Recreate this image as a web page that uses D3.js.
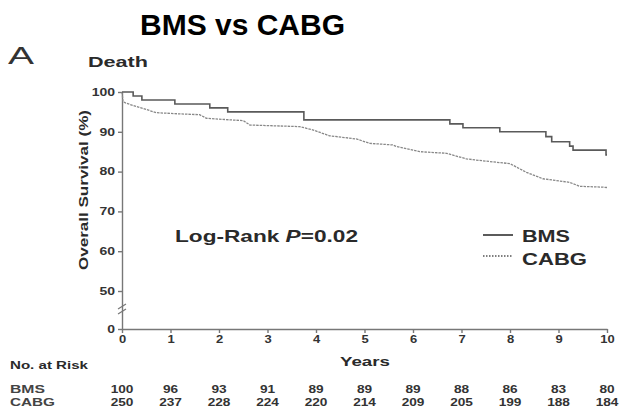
<!DOCTYPE html>
<html>
<head>
<meta charset="utf-8">
<script src="https://cdnjs.cloudflare.com/ajax/libs/d3/7.8.5/d3.min.js"></script>
<style>
  body { margin: 0; background: #fff; }
  svg { display: block; }
  text { font-family: "Liberation Sans", Arial, sans-serif; }
</style>
</head>
<body>
<script>
// KM curves (years, % surviving)
var bmsTime = [0, 0.23, 0.41, 1.09, 1.81, 2.18, 3.75, 6.76, 7.03, 7.79, 8.74, 8.86, 9.23, 9.30, 9.98, 10];
var bmsSurv = [100, 99, 98, 97, 96, 95, 93, 92, 91, 90, 88.8, 87.5, 86.4, 85.4, 84.2, 84.2];

var cabgTime = [0, 0.02, 0.08, 0.71, 1.19, 1.60, 1.74, 2.23, 2.50, 2.64, 3.66, 3.93, 4.28, 4.83, 5.11, 5.58, 5.66, 6.14, 6.69, 7.10, 7.37, 8.00, 8.34, 8.68, 9.23, 9.44, 9.91, 10];
var cabgSurv = [100, 97.6, 97.2, 94.8, 94.5, 94.3, 93.4, 93.0, 92.8, 91.7, 91.3, 90.5, 89.0, 88.2, 87.1, 86.7, 86.3, 85.0, 84.6, 83.2, 82.8, 82.0, 79.8, 78.2, 77.3, 76.3, 76.1, 76.0];

var years = [0, 1, 2, 3, 4, 5, 6, 7, 8, 9, 10];
var yTicks = [0, 50, 60, 70, 80, 90, 100];
var bmsRisk = [100, 96, 93, 91, 89, 89, 89, 88, 86, 83, 80];
var cabgRisk = [250, 237, 228, 224, 220, 214, 209, 205, 199, 188, 184];

function draw() {
	var width = 619;
	var height = 411;
	var ink = "#2a2a2a";

	var svg = d3.select("body").append("svg")
	    .attr("width", width)
	    .attr("height", height);

	var x = d3.scaleLinear().domain([0, 10]).range([122, 607]);
	// broken axis: 0..50 squeezed, 50..100 linear
	var y = d3.scaleLinear().domain([0, 50, 100]).range([329, 291, 92]);

	// stretched text helper (the figure is widened horizontally)
	function label(str, px, py, size, len, opts) {
		opts = opts || {};
		var t = svg.append("text")
		    .attr("x", px)
		    .attr("y", py)
		    .attr("font-size", size)
		    .attr("font-weight", opts.weight || "bold")
		    .attr("fill", opts.fill || ink)
		    .attr("text-anchor", opts.anchor || "start")
		    .text(str);
		if (len) t.attr("textLength", len).attr("lengthAdjust", "spacingAndGlyphs");
		return t;
	}

	label("BMS vs CABG", 140, 35, 30, 205, {fill: "#000"});
	label("A", 8, 64, 24, 26, {weight: "normal", fill: "#333"});
	label("Death", 88, 67, 14, 60);

	// axes
	var yAxis = d3.axisLeft(y).tickValues(yTicks).tickSize(4).tickPadding(3).tickSizeOuter(0);
	var xAxis = d3.axisBottom(x).tickValues(years).tickSize(4).tickPadding(2.5).tickSizeOuter(0);

	var gy = svg.append("g").attr("transform", "translate(122,0)").call(yAxis);
	var gx = svg.append("g").attr("transform", "translate(0,329)").call(xAxis);

	[gy, gx].forEach(function(g) {
		g.selectAll("path, line").attr("stroke", "#777").attr("stroke-width", 1.4);
		g.selectAll("text")
		    .attr("fill", "#333")
		    .attr("font-size", 10)
		    .attr("font-weight", "bold")
		    .attr("font-family", "Liberation Sans, Arial, sans-serif");
	});
	gy.selectAll("text")
	    .attr("x", -7 / 1.4)
	    .attr("transform", "scale(1.4,1)");
	gx.selectAll("text")
	    .attr("transform", "scale(1.3,1)");

	// axis break
	svg.append("g").selectAll("line")
	    .data([0, 5])
	    .enter().append("line")
	    .attr("x1", 118).attr("x2", 126)
	    .attr("y1", function(d) { return 309 + d; })
	    .attr("y2", function(d) { return 304 + d; })
	    .attr("stroke", "#777")
	    .attr("stroke-width", 1.2);

	// y label
	svg.append("text")
	    .attr("transform", "translate(88,190) rotate(-90)")
	    .attr("text-anchor", "middle")
	    .attr("font-size", 12)
	    .attr("font-weight", "bold")
	    .attr("fill", ink)
	    .attr("textLength", 160)
	    .attr("lengthAdjust", "spacingAndGlyphs")
	    .text("Overall Survival (%)");

	// curves
	var bms = bmsTime.map(function(t, i) { return [t, bmsSurv[i]]; });
	var cabg = cabgTime.map(function(t, i) { return [t, cabgSurv[i]]; });

	var stepLine = d3.line()
	    .x(function(d) { return x(d[0]); })
	    .y(function(d) { return y(d[1]); })
	    .curve(d3.curveStepAfter);
	var smoothLine = d3.line()
	    .x(function(d) { return x(d[0]); })
	    .y(function(d) { return y(d[1]); });

	svg.append("path")
	    .datum(cabg)
	    .attr("d", smoothLine)
	    .attr("fill", "none")
	    .attr("stroke", "#888")
	    .attr("stroke-width", 1.3)
	    .attr("stroke-dasharray", "2.5,1");

	svg.append("path")
	    .datum(bms)
	    .attr("d", stepLine)
	    .attr("fill", "none")
	    .attr("stroke", "#5a5a5a")
	    .attr("stroke-width", 1.6);

	// annotation
	var lr = label("", 175, 242, 16.5, 183);
	lr.append("tspan").text("Log-Rank ");
	lr.append("tspan").attr("font-style", "italic").text("P");
	lr.append("tspan").text("=0.02");

	// legend
	svg.append("line")
	    .attr("x1", 483).attr("x2", 513).attr("y1", 235).attr("y2", 235)
	    .attr("stroke", "#333").attr("stroke-width", 1.6);
	svg.append("line")
	    .attr("x1", 483).attr("x2", 513).attr("y1", 256).attr("y2", 256)
	    .attr("stroke", "#555").attr("stroke-width", 1.3)
	    .attr("stroke-dasharray", "1.5,1.5");
	label("BMS", 522, 242, 16, 48);
	label("CABG", 522, 264.5, 16, 65);

	label("Years", 340, 366, 13.5, 50);

	// number at risk
	label("No. at Risk", 10, 369, 11, 78);
	label("BMS", 10, 393, 10.5, 35, {fill: "#444"});
	label("CABG", 10, 406, 10.5, 45, {fill: "#444"});

	var rows = [[bmsRisk, 393], [cabgRisk, 406]];
	rows.forEach(function(r) {
		svg.append("g").selectAll("text")
		    .data(r[0])
		    .enter().append("text")
		    .attr("transform", function(d, i) { return "translate(" + x(years[i]) + "," + r[1] + ") scale(1.3,1)"; })
		    .attr("text-anchor", "middle")
		    .attr("font-size", 10.5)
		    .attr("font-weight", "bold")
		    .attr("fill", "#333")
		    .text(function(d) { return d; });
	});
}
draw();
</script>
</body>
</html>
